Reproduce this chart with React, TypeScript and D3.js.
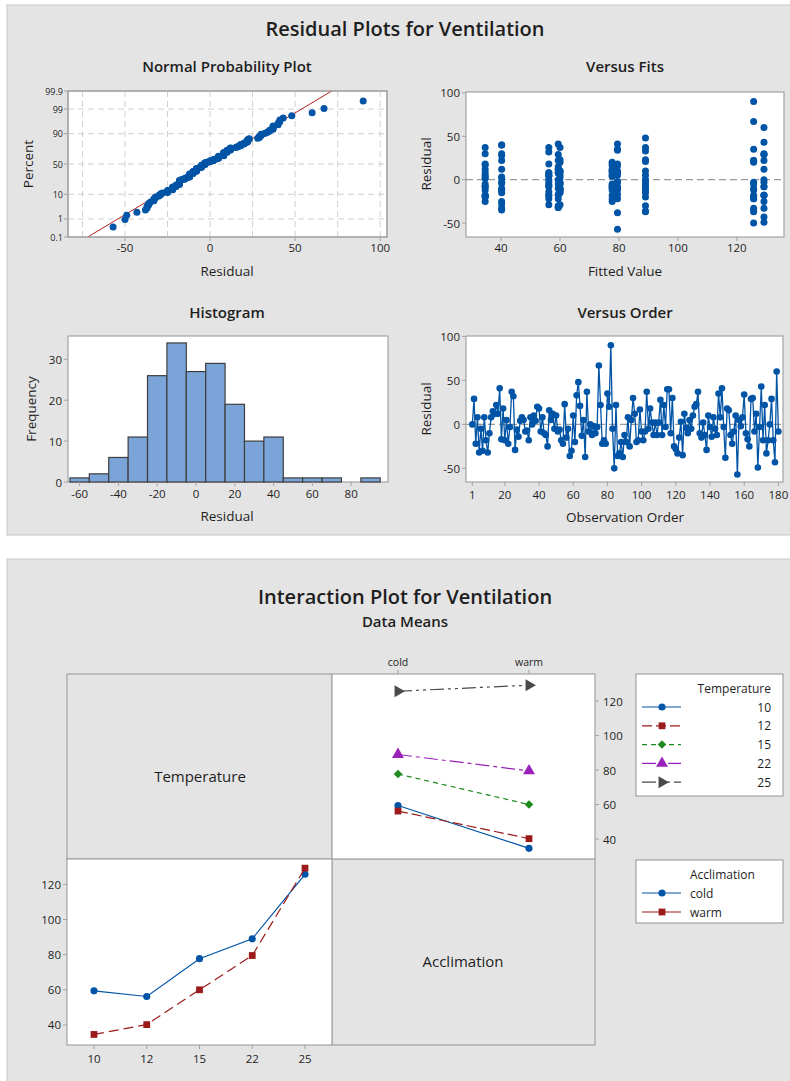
import * as d3 from 'd3';

const FONT = '"Open Sans", "Noto Sans", sans-serif';
const BLUE = '#0054a6';
const RED = '#9c1a1a';
const GREEN = '#1c8a1c';
const PURPLE = '#9a22b8';
const DARK = '#4a4a4a';
const PANEL = '#e4e4e4';
const FRAME = '#a3a3a3';

// cell means (Temperature x Acclimation)
const temperatures = ['10', '12', '15', '22', '25'];
const acclimations = ['cold', 'warm'];
const coldMeans = [59.4, 56.2, 77.7, 89.0, 125.7];
const warmMeans = [34.6, 40.2, 60.0, 79.5, 129.2];

// residuals in observation order, 18 per cell (cold 10..25, then warm 10..25)
const residuals = [
  0, 29, -22, 8, -32, -5, -30, 8, -18, -32, -10, 8, 15, 12, 22, 12, 41, -17,
  18, -18, 5, -22, -3, 37, 32, -29, -6, -14, 4, 8, 5, -8, -7, -18, 8, 0,
  10, 4, 20, 18, -8, 8, -10, -12, -25, 16, 5, 12, -5, 10, -8, -6, -18, -22,
  23, -15, -5, -36, -30, 10, -20, 33, 48, 21, -13, 5, -37, 37, -8, 0, -12, -2,
  -10, -3, 67, 22, -22, -18, -22, 35, 20, 90, -5, -50, 22, -36, -33, -20, -37, -12,
  -20, 8, -25, 5, 30, 12, -20, -18, 17, -8, -18, -8, 37, -5, 18, 2, -12, 2,
  -12, 2, 28, -12, 22, -3, 40, 40, -10, 30, -25, -28, -33, -15, 3, -35, 12, -4,
  -10, 5, -5, 10, 20, 23, 37, -10, -15, 2, -12, -29, 10, -3, -14, 8, -5, -12,
  35, 8, 41, -3, -38, 18, 16, -12, -22, -8, 10, -57, 5, -2, 8, 34, -10, -17,
  -25, 29, 30, -8, 12, -49, -3, 43, -18, 22, -33, -18, 0, 29, -18, -43, 60, -8,
];

const pctTicks = [0.1, 1, 10, 50, 90, 99, 99.9];
const npTicks = [-50, 0, 50, 100];
const fitTicks = [40, 60, 80, 100, 120];
const resTicks = [-50, 0, 50, 100];
const histTicks = [-60, -40, -20, 0, 20, 40, 60, 80];
const freqTicks = [0, 10, 20, 30];
const orderTicks = [1, 20, 40, 60, 80, 100, 120, 140, 160, 180];
const meanTicks = [40, 60, 80, 100, 120];

// series styles
const tempStyles = [
  { color: BLUE, dash: 'none', sym: d3.symbolCircle, size: 40, rot: 0 },
  { color: RED, dash: '10,4', sym: d3.symbolSquare, size: 46, rot: 0 },
  { color: GREEN, dash: '5,4', sym: d3.symbolSquare, size: 36, rot: 45 },
  { color: PURPLE, dash: '14,4,4,4', sym: d3.symbolTriangle, size: 62, rot: 0 },
  { color: DARK, dash: '14,4,3,4,3,4', sym: d3.symbolTriangle, size: 62, rot: 90 },
];
const accStyles = [
  { color: BLUE, dash: 'none', sym: d3.symbolCircle, size: 40, rot: 0 },
  { color: RED, dash: '10,5', sym: d3.symbolSquare, size: 46, rot: 0 },
];

// Acklam inverse normal
function invNorm(p: number) {
  const a = [-39.69683028665376, 220.9460984245205, -275.9285104469687, 138.357751867269, -30.66479806614716, 2.506628277459239];
  const b = [-54.47609879822406, 161.5858368580409, -155.6989798598866, 66.80131188771972, -13.28068155288572];
  const c = [-0.007784894002430293, -0.3223964580411365, -2.400758277161838, -2.549732539343734, 4.374664141464968, 2.938163982698783];
  const d = [0.007784695709041462, 0.3224671290700398, 2.445134137142996, 3.754408661907416];
  const pl = 0.02425;
  if (p < pl) {
    const q = Math.sqrt(-2 * Math.log(p));
    return (((((c[0] * q + c[1]) * q + c[2]) * q + c[3]) * q + c[4]) * q + c[5]) / ((((d[0] * q + d[1]) * q + d[2]) * q + d[3]) * q + 1);
  }
  if (p <= 1 - pl) {
    const q = p - 0.5, r = q * q;
    return (((((a[0] * r + a[1]) * r + a[2]) * r + a[3]) * r + a[4]) * r + a[5]) * q / (((((b[0] * r + b[1]) * r + b[2]) * r + b[3]) * r + b[4]) * r + 1);
  }
  const q = Math.sqrt(-2 * Math.log(1 - p));
  return -(((((c[0] * q + c[1]) * q + c[2]) * q + c[3]) * q + c[4]) * q + c[5]) / ((((d[0] * q + d[1]) * q + d[2]) * q + d[3]) * q + 1);
}

const Txt = ({ x, y, size = 11.5, anchor = 'middle', weight = 400, rot = 0, children }: any) => (
  <text x={x} y={y} fontSize={size} textAnchor={anchor} fontWeight={weight} fill="#1e1e1e"
    fontFamily={FONT} dominantBaseline="central"
    transform={rot ? `rotate(${rot},${x},${y})` : undefined}>{children}</text>
);

const Box = ({ l, t, r, b, fill = '#fff' }: any) => (
  <rect x={l} y={t} width={r - l} height={b - t} fill={fill} stroke={FRAME} strokeWidth={1.2} />
);

const sym = (s: any) => d3.symbol(s.sym, s.size)()!;

const NormalPlot = () => {
  const L = 68, R = 387, T = 91, B = 237;
  const x = d3.scaleLinear().domain([-83.5, 104]).range([L, R]);
  const y = d3.scaleLinear().domain([invNorm(0.001), invNorm(0.999)]).range([B, T]);
  const n = residuals.length;
  const sorted = residuals.slice().sort(d3.ascending);
  const mu = d3.mean(residuals)!, sd = d3.deviation(residuals)!;
  const zs = y.domain();
  return (
    <g>
      <Txt x={227} y={66} size={15} weight={600}>Normal Probability Plot</Txt>
      <Box l={L} t={T} r={R} b={B} />
      <clipPath id="npclip"><rect x={L} y={T} width={R - L} height={B - T} /></clipPath>
      {d3.range(-75, 101, 25).map(v => (
        <line key={v} x1={x(v)} x2={x(v)} y1={T} y2={B} stroke="#cfcfcf" strokeDasharray="6,4" />
      ))}
      {pctTicks.slice(1, -1).map(p => (
        <line key={p} x1={L} x2={R} y1={y(invNorm(p / 100))} y2={y(invNorm(p / 100))} stroke="#cfcfcf" strokeDasharray="6,4" />
      ))}
      <line clipPath="url(#npclip)" x1={x(mu + sd * zs[0])} y1={y(zs[0])} x2={x(mu + sd * zs[1])} y2={y(zs[1])} stroke="#b22222" strokeWidth={1} />
      {sorted.map((r, i) => (
        <circle key={i} cx={x(r)} cy={y(invNorm((i + 0.7) / (n + 0.4)))} r={3.5} fill={BLUE} />
      ))}
      <Box l={L} t={T} r={R} b={B} fill="none" />
      {npTicks.map(v => (
        <g key={v}>
          <line x1={x(v)} x2={x(v)} y1={B} y2={B + 4} stroke={FRAME} />
          <Txt x={x(v)} y={247}>{v}</Txt>
        </g>
      ))}
      {pctTicks.map(p => (
        <g key={p}>
          <line x1={L - 4} x2={L} y1={y(invNorm(p / 100))} y2={y(invNorm(p / 100))} stroke={FRAME} />
          <Txt x={L - 5} y={y(invNorm(p / 100))} size={9} anchor="end">{p}</Txt>
        </g>
      ))}
      <Txt x={227} y={271} size={13.5}>Residual</Txt>
      <Txt x={28} y={164} size={13.5} rot={-90}>Percent</Txt>
    </g>
  );
};

const FitsPlot = () => {
  const L = 466, R = 784, T = 92, B = 237;
  const x = d3.scaleLinear().domain([28.1, 136]).range([L, R]);
  const y = d3.scaleLinear().domain([-66, 101]).range([B, T]);
  const fits = residuals.map((_, i) => (i < 90 ? coldMeans : warmMeans)[Math.floor((i % 90) / 18)]);
  return (
    <g>
      <Txt x={625} y={66} size={15} weight={600}>Versus Fits</Txt>
      <Box l={L} t={T} r={R} b={B} />
      <line x1={L} x2={R} y1={y(0)} y2={y(0)} stroke="#9a9a9a" strokeWidth={1.3} strokeDasharray="7,4" />
      {residuals.map((r, i) => (
        <circle key={i} cx={x(fits[i])} cy={y(r)} r={3.5} fill={BLUE} />
      ))}
      {fitTicks.map(v => (
        <g key={v}>
          <line x1={x(v)} x2={x(v)} y1={B} y2={B + 4} stroke={FRAME} />
          <Txt x={x(v)} y={247}>{v}</Txt>
        </g>
      ))}
      {resTicks.map(v => (
        <g key={v}>
          <line x1={L - 4} x2={L} y1={y(v)} y2={y(v)} stroke={FRAME} />
          <Txt x={L - 6} y={y(v)} anchor="end">{v}</Txt>
        </g>
      ))}
      <Txt x={625} y={271} size={13.5}>Fitted Value</Txt>
      <Txt x={426} y={164} size={13.5} rot={-90}>Residual</Txt>
    </g>
  );
};

const HistPlot = () => {
  const L = 68, R = 388, T = 336, B = 482;
  const x = d3.scaleLinear().domain([-66, 99]).range([L, R]);
  const y = d3.scaleLinear().domain([0, 35.7]).range([B, T]);
  const bins = d3.bin().domain([-65, 95]).thresholds(d3.range(-55, 95, 10))(residuals);
  return (
    <g>
      <Txt x={227} y={312} size={15} weight={600}>Histogram</Txt>
      <Box l={L} t={T} r={R} b={B} />
      {bins.filter(b => b.length > 0).map((b, i) => (
        <rect key={i} x={x(b.x0!)} y={y(b.length)} width={x(b.x1!) - x(b.x0!)} height={y(0) - y(b.length)}
          fill="#7ba5d8" stroke="#3e3e3e" strokeWidth={1.2} />
      ))}
      {histTicks.map(v => (
        <g key={v}>
          <line x1={x(v)} x2={x(v)} y1={B} y2={B + 4} stroke={FRAME} />
          <Txt x={x(v)} y={493}>{v}</Txt>
        </g>
      ))}
      {freqTicks.map(v => (
        <g key={v}>
          <line x1={L - 4} x2={L} y1={y(v)} y2={y(v)} stroke={FRAME} />
          <Txt x={L - 6} y={y(v)} anchor="end">{v}</Txt>
        </g>
      ))}
      <Txt x={227} y={516} size={13.5}>Residual</Txt>
      <Txt x={31} y={409} size={13.5} rot={-90}>Frequency</Txt>
    </g>
  );
};

const OrderPlot = () => {
  const L = 466, R = 783, T = 336, B = 482;
  const x = d3.scaleLinear().domain([-2.7, 182.7]).range([L, R]);
  const y = d3.scaleLinear().domain([-65.5, 100.5]).range([B, T]);
  const line = d3.line<number>().x((_, i) => x(i + 1)).y(d => y(d));
  return (
    <g>
      <Txt x={625} y={312} size={15} weight={600}>Versus Order</Txt>
      <Box l={L} t={T} r={R} b={B} />
      <line x1={L} x2={R} y1={y(0)} y2={y(0)} stroke="#9a9a9a" strokeWidth={1.3} strokeDasharray="7,4" />
      <path d={line(residuals)!} fill="none" stroke={BLUE} strokeWidth={1.3} />
      {residuals.map((r, i) => (
        <circle key={i} cx={x(i + 1)} cy={y(r)} r={3.3} fill={BLUE} />
      ))}
      {orderTicks.map(v => (
        <g key={v}>
          <line x1={x(v)} x2={x(v)} y1={B} y2={B + 4} stroke={FRAME} />
          <Txt x={x(v)} y={494}>{v}</Txt>
        </g>
      ))}
      {resTicks.map(v => (
        <g key={v}>
          <line x1={L - 4} x2={L} y1={y(v)} y2={y(v)} stroke={FRAME} />
          <Txt x={L - 6} y={y(v)} anchor="end">{v}</Txt>
        </g>
      ))}
      <Txt x={625} y={517} size={13.5}>Observation Order</Txt>
      <Txt x={426} y={409} size={13.5} rot={-90}>Residual</Txt>
    </g>
  );
};

const Marker = ({ s, x, y }: any) => (
  <path d={sym(s)} fill={s.color} transform={`translate(${x},${y}) rotate(${s.rot})`} />
);

const Interaction = () => {
  const xl = 67, xm = 332, xr = 595, yt = 674, ym = 859, yb = 1045;
  // top-right: temperature series across acclimation
  const xa = d3.scalePoint().domain(acclimations).range([398, 529]);
  const ya = d3.scaleLinear().domain([28.4, 135.7]).range([ym, yt]);
  // bottom-left: acclimation series across temperature
  const xt = d3.scalePoint().domain(temperatures).range([94, 305]);
  const yl = d3.scaleLinear().domain([28.6, 134.4]).range([yb, ym]);
  const byAcc = [coldMeans, warmMeans];
  return (
    <g>
      <Txt x={405} y={596} size={20} weight={600}>Interaction Plot for Ventilation</Txt>
      <Txt x={405} y={621} size={15} weight={600}>Data Means</Txt>

      <Box l={xl} t={yt} r={xm} b={ym} fill={PANEL} />
      <Txt x={200} y={776} size={15} weight={500}>Temperature</Txt>
      <Box l={xm} t={ym} r={xr} b={yb} fill={PANEL} />
      <Txt x={463} y={961} size={15} weight={500}>Acclimation</Txt>

      <Box l={xm} t={yt} r={xr} b={ym} />
      {temperatures.map((t, k) => {
        const s = tempStyles[k];
        const vals = [coldMeans[k], warmMeans[k]];
        return (
          <g key={t}>
            <line x1={xa('cold')!} y1={ya(vals[0])} x2={xa('warm')!} y2={ya(vals[1])}
              stroke={s.color} strokeWidth={1.2} strokeDasharray={s.dash} />
            {vals.map((v, j) => <Marker key={j} s={s} x={xa(acclimations[j])} y={ya(v)} />)}
          </g>
        );
      })}
      {acclimations.map(a => (
        <g key={a}>
          <line x1={xa(a)!} x2={xa(a)!} y1={yt - 4} y2={yt} stroke={FRAME} />
          <Txt x={xa(a)} y={662} size={10.5}>{a}</Txt>
        </g>
      ))}
      {meanTicks.map(v => (
        <g key={v}>
          <line x1={xr} x2={xr + 4} y1={ya(v)} y2={ya(v)} stroke={FRAME} />
          <Txt x={xr + 8} y={ya(v)} anchor="start">{v}</Txt>
        </g>
      ))}

      <Box l={xl} t={ym} r={xm} b={yb} />
      {acclimations.map((a, j) => {
        const s = accStyles[j];
        const vals = byAcc[j];
        const ln = d3.line<number>().x((_, i) => xt(temperatures[i])!).y(d => yl(d));
        return (
          <g key={a}>
            <path d={ln(vals)!} fill="none" stroke={s.color} strokeWidth={1.2} strokeDasharray={s.dash} />
            {vals.map((v, i) => <Marker key={i} s={s} x={xt(temperatures[i])} y={yl(v)} />)}
          </g>
        );
      })}
      {temperatures.map(t => (
        <g key={t}>
          <line x1={xt(t)!} x2={xt(t)!} y1={yb} y2={yb + 4} stroke={FRAME} />
          <Txt x={xt(t)} y={1058}>{t}</Txt>
        </g>
      ))}
      {meanTicks.map(v => (
        <g key={v}>
          <line x1={xl - 4} x2={xl} y1={yl(v)} y2={yl(v)} stroke={FRAME} />
          <Txt x={xl - 6} y={yl(v)} anchor="end">{v}</Txt>
        </g>
      ))}

      {/* legends */}
      <Box l={636} t={674} r={783} b={796} />
      <Txt x={771} y={688} size={12} anchor="end" weight={500}>Temperature</Txt>
      {temperatures.map((t, k) => {
        const s = tempStyles[k];
        const yy = 707 + k * 18.8;
        return (
          <g key={t}>
            <line x1={642} x2={681} y1={yy} y2={yy} stroke={s.color} strokeWidth={1.2} strokeDasharray={s.dash} />
            <Marker s={s} x={662} y={yy} />
            <Txt x={771} y={yy} size={12} anchor="end">{t}</Txt>
          </g>
        );
      })}
      <Box l={636} t={860} r={783} b={923} />
      <Txt x={690} y={874} size={12} anchor="start" weight={500}>Acclimation</Txt>
      {acclimations.map((a, j) => {
        const s = accStyles[j];
        const yy = 893 + j * 19;
        return (
          <g key={a}>
            <line x1={642} x2={681} y1={yy} y2={yy} stroke={s.color} strokeWidth={1.2} />
            <Marker s={s} x={662} y={yy} />
            <Txt x={690} y={yy} size={12} anchor="start">{a}</Txt>
          </g>
        );
      })}
    </g>
  );
};

export default function App() {
  return (
    <svg width={790} height={1081} style={{ position: 'absolute', left: 0, top: 0, background: '#fff' }}>
      <rect x={7} y={5} width={790} height={530} fill={PANEL} stroke="#c8c8c8" />
      <rect x={7} y={559} width={790} height={530} fill={PANEL} stroke="#c8c8c8" />
      <Txt x={405} y={28} size={20} weight={600}>Residual Plots for Ventilation</Txt>
      <NormalPlot />
      <FitsPlot />
      <HistPlot />
      <OrderPlot />
      <Interaction />
    </svg>
  );
}
